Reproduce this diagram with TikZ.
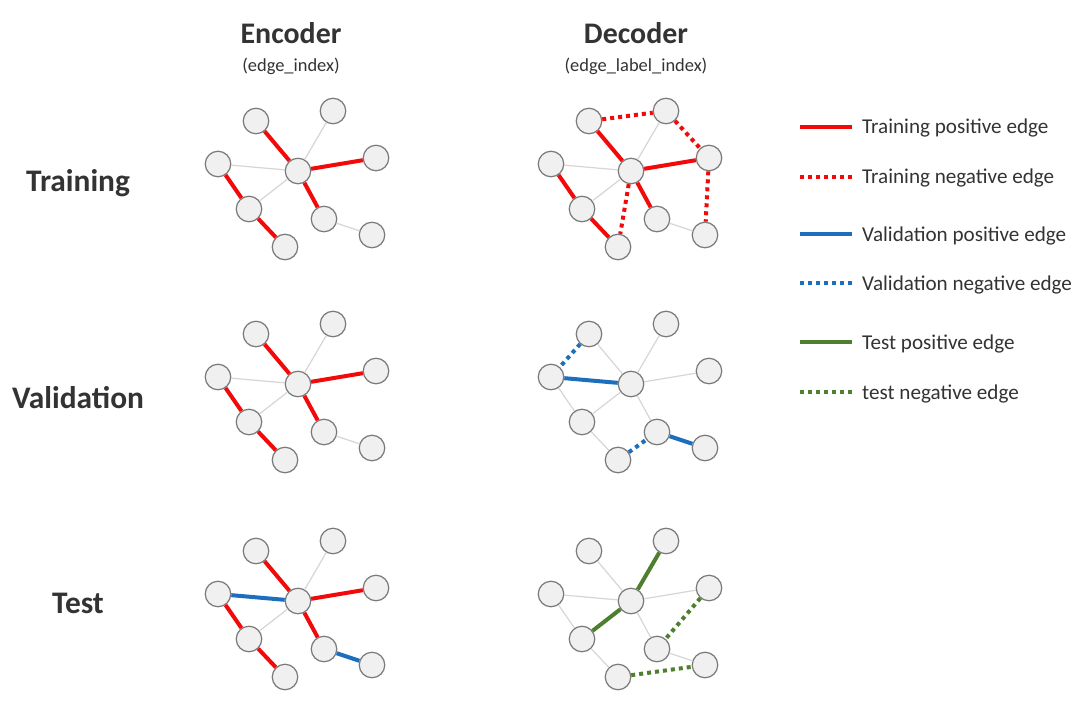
\documentclass[tikz,border=0pt]{standalone}
\usepackage{fontspec}
\setmainfont{Carlito}
\definecolor{txt}{HTML}{333333}
\definecolor{tred}{HTML}{F20A0A}
\definecolor{vblue}{HTML}{1D6FBE}
\definecolor{sgreen}{HTML}{4E7F2E}
\definecolor{egray}{HTML}{D6D6D6}
\definecolor{nfill}{HTML}{F0F0F0}
\definecolor{nline}{HTML}{7A7A7A}
\newcommand\mkgraph[3]{%
  \begin{scope}[shift={(#2,#3)}]
    \node[gn] (#1A) at (256,121) {};
    \node[gn] (#1B) at (333,111) {};
    \node[gn] (#1C) at (218,164) {};
    \node[gn] (#1D) at (298,171) {};
    \node[gn] (#1E) at (376,158) {};
    \node[gn] (#1F) at (249,209) {};
    \node[gn] (#1G) at (324,219) {};
    \node[gn] (#1H) at (285,247) {};
    \node[gn] (#1I) at (372,235) {};
  \end{scope}}
\begin{document}
\begin{tikzpicture}[x=1bp,y=-1bp,
  gn/.style={circle,draw=nline,fill=nfill,line width=1.2bp,minimum size=25.5bp,inner sep=0pt},
  ge/.style={draw=egray,line width=1.2bp},
  tpos/.style={draw=tred,line width=4bp},
  tneg/.style={draw=tred,line width=4bp,dash pattern=on 4bp off 4bp},
  vpos/.style={draw=vblue,line width=4bp},
  vneg/.style={draw=vblue,line width=4bp,dash pattern=on 4bp off 4bp},
  spos/.style={draw=sgreen,line width=4bp},
  sneg/.style={draw=sgreen,line width=4bp,dash pattern=on 4bp off 4bp},
  title/.style={text=txt,font=\fontsize{30}{33}\selectfont\bfseries,anchor=base,inner sep=0pt},
  subt/.style={text=txt,font=\fontsize{18.5}{21}\selectfont,anchor=base,inner sep=0pt},
  rowl/.style={text=txt,font=\fontsize{31.5}{34}\selectfont\bfseries,anchor=base,inner sep=0pt},
  legt/.style={text=txt,font=\fontsize{21.2}{25}\selectfont,anchor=base west,inner sep=0pt},
]
\useasboundingbox[fill=white] (0,0) rectangle (1080,707);

% titles
\node[title] (enc) at (291,44) {Encoder};
\node[subt] (encs) at (291,72) {(edge\_index)};
\node[title] (dec) at (636,44) {Decoder};
\node[subt] (decs) at (636,72) {(edge\_label\_index)};
\node[rowl] (rtr) at (78,192) {Training};
\node[rowl] (rva) at (78,408) {Validation};
\node[rowl] (rte) at (78,613) {Test};

% graphs
\mkgraph{a}{0}{0}
\mkgraph{b}{333}{0}
\mkgraph{c}{0}{213}
\mkgraph{d}{333}{213}
\mkgraph{e}{0}{430}
\mkgraph{f}{333}{430}

% encoder training
\draw[ge] (aB) -- (aD);
\draw[ge] (aC) -- (aD);
\draw[ge] (aF) -- (aD);
\draw[ge] (aG) -- (aI);
\draw[tpos] (aA) -- (aD);
\draw[tpos] (aC) -- (aF);
\draw[tpos] (aF) -- (aH);
\draw[tpos] (aD) -- (aE);
\draw[tpos] (aD) -- (aG);

% decoder training
\draw[ge] (bB) -- (bD);
\draw[ge] (bC) -- (bD);
\draw[ge] (bF) -- (bD);
\draw[ge] (bG) -- (bI);
\draw[tpos] (bA) -- (bD);
\draw[tpos] (bC) -- (bF);
\draw[tpos] (bF) -- (bH);
\draw[tpos] (bD) -- (bE);
\draw[tpos] (bD) -- (bG);
\draw[tneg] (bA) -- (bB);
\draw[tneg] (bB) -- (bE);
\draw[tneg] (bE) -- (bI);
\draw[tneg] (bD) -- (bH);

% encoder validation
\draw[ge] (cB) -- (cD);
\draw[ge] (cC) -- (cD);
\draw[ge] (cF) -- (cD);
\draw[ge] (cG) -- (cI);
\draw[tpos] (cA) -- (cD);
\draw[tpos] (cC) -- (cF);
\draw[tpos] (cF) -- (cH);
\draw[tpos] (cD) -- (cE);
\draw[tpos] (cD) -- (cG);

% decoder validation
\draw[ge] (dA) -- (dD);
\draw[ge] (dB) -- (dD);
\draw[ge] (dE) -- (dD);
\draw[ge] (dF) -- (dD);
\draw[ge] (dC) -- (dF);
\draw[ge] (dF) -- (dH);
\draw[ge] (dD) -- (dG);
\draw[vpos] (dC) -- (dD);
\draw[vpos] (dG) -- (dI);
\draw[vneg] (dA) -- (dC);
\draw[vneg] (dH) -- (dG);

% encoder test
\draw[ge] (eB) -- (eD);
\draw[ge] (eF) -- (eD);
\draw[tpos] (eA) -- (eD);
\draw[tpos] (eC) -- (eF);
\draw[tpos] (eF) -- (eH);
\draw[tpos] (eD) -- (eE);
\draw[tpos] (eD) -- (eG);
\draw[vpos] (eC) -- (eD);
\draw[vpos] (eG) -- (eI);

% decoder test
\draw[ge] (fA) -- (fD);
\draw[ge] (fC) -- (fD);
\draw[ge] (fC) -- (fF);
\draw[ge] (fF) -- (fH);
\draw[ge] (fD) -- (fE);
\draw[ge] (fD) -- (fG);
\draw[ge] (fG) -- (fI);
\draw[spos] (fD) -- (fB);
\draw[spos] (fD) -- (fF);
\draw[sneg] (fE) -- (fG);
\draw[sneg] (fH) -- (fI);

% legend
\foreach \n/\y/\st/\lab in {1/127/tpos/Training positive edge,
                            2/177/tneg/Training negative edge,
                            3/234/vpos/Validation positive edge,
                            4/283/vneg/Validation negative edge,
                            5/342/spos/Test positive edge,
                            6/392/sneg/test negative edge}{
  \coordinate (la\n) at (800,\y);
  \coordinate (lb\n) at (852,\y);
  \draw[\st,line width=3.2bp] (la\n) -- (lb\n);
  \node[legt] (lt\n) at (862,\y+7) {\lab};
}
\end{tikzpicture}
\end{document}
